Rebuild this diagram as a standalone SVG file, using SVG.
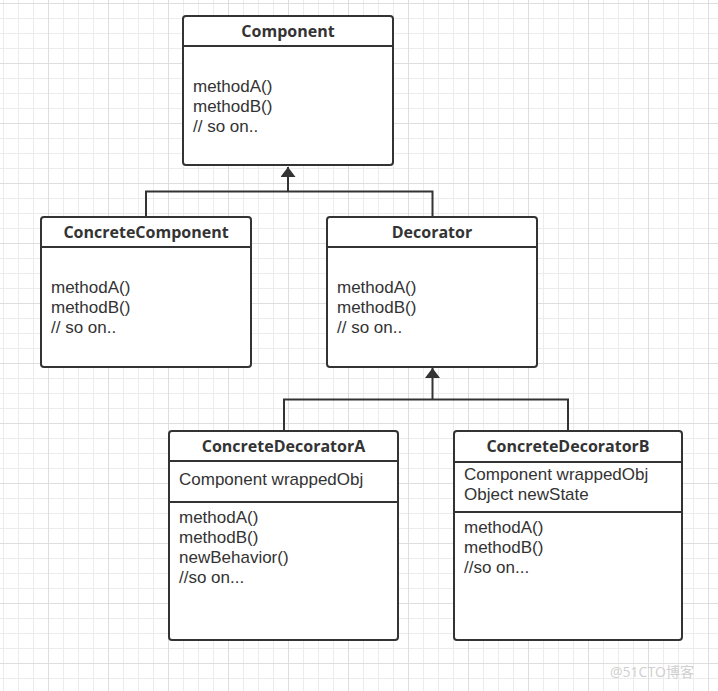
<svg xmlns="http://www.w3.org/2000/svg" width="718" height="691" viewBox="0 0 718 691">
<style>
.box{fill:#fff;stroke:#333;stroke-width:2}
.div{stroke:#333;stroke-width:2}
.title{font-family:"Open Sans","Noto Sans",sans-serif;font-weight:bold;font-size:16px;fill:#333;text-anchor:middle}
.t{font-family:"Liberation Sans",Arial,sans-serif;font-size:17px;fill:#333}
.conn{fill:none;stroke:#333;stroke-width:2}
</style>
<defs>
<pattern id="minor" patternUnits="userSpaceOnUse" x="3" y="3" width="15" height="15">
<path d="M0.5 0V15M0 0.5H15" stroke="#ececec" stroke-width="1" fill="none"/>
</pattern>
<pattern id="major" patternUnits="userSpaceOnUse" x="48" y="3" width="60" height="60">
<path d="M0.5 0V60M0 0.5H60" stroke="#dedede" stroke-width="1" fill="none"/>
</pattern>
<marker id="tri" viewBox="0 0 10 15" refX="10" refY="7.5" markerWidth="10" markerHeight="15" markerUnits="userSpaceOnUse" orient="auto">
<path d="M0 0L10 7.5L0 15Z" fill="#333"/>
</marker>
</defs>
<rect width="718" height="691" fill="#fff"/>
<rect width="718" height="691" fill="url(#minor)"/>
<rect width="718" height="691" fill="url(#major)"/>

<g id="connectors">
<path class="conn" d="M146 216V191.5H432.5V216"/>
<path class="conn" d="M288 191.5V167" marker-end="url(#tri)"/>
<path class="conn" d="M284 431V399.5H568V431"/>
<path class="conn" d="M432.5 399.5V368" marker-end="url(#tri)"/>
</g>

<g id="component">
<rect class="box" x="183" y="16" width="210" height="149" rx="3"/>
<line class="div" x1="183" y1="46" x2="393" y2="46"/>
<text class="title" x="288" y="37">Component</text>
<text class="t" x="193" y="92">methodA()</text>
<text class="t" x="193" y="112">methodB()</text>
<text class="t" x="193" y="132">// so on..</text>
</g>

<g id="concreteComponent">
<rect class="box" x="41" y="217" width="210" height="150" rx="3"/>
<line class="div" x1="41" y1="247" x2="251" y2="247"/>
<text class="title" x="146" y="238">ConcreteComponent</text>
<text class="t" x="51" y="293">methodA()</text>
<text class="t" x="51" y="313">methodB()</text>
<text class="t" x="51" y="333">// so on..</text>
</g>

<g id="decorator">
<rect class="box" x="327" y="217" width="210" height="150" rx="3"/>
<line class="div" x1="327" y1="247" x2="537" y2="247"/>
<text class="title" x="432" y="238">Decorator</text>
<text class="t" x="337" y="293">methodA()</text>
<text class="t" x="337" y="313">methodB()</text>
<text class="t" x="337" y="333">// so on..</text>
</g>

<g id="concreteDecoratorA">
<rect class="box" x="169" y="431" width="229" height="209" rx="3"/>
<line class="div" x1="169" y1="461" x2="398" y2="461"/>
<line class="div" x1="169" y1="502" x2="398" y2="502"/>
<text class="title" x="283.5" y="452">ConcreteDecoratorA</text>
<text class="t" x="179" y="485">Component wrappedObj</text>
<text class="t" x="179" y="523">methodA()</text>
<text class="t" x="179" y="543">methodB()</text>
<text class="t" x="179" y="563">newBehavior()</text>
<text class="t" x="179" y="583">//so on...</text>
</g>

<g id="concreteDecoratorB">
<rect class="box" x="454" y="431" width="228" height="209" rx="3"/>
<line class="div" x1="454" y1="462" x2="682" y2="462"/>
<line class="div" x1="454" y1="512" x2="682" y2="512"/>
<text class="title" x="568" y="452">ConcreteDecoratorB</text>
<text class="t" x="464" y="480">Component wrappedObj</text>
<text class="t" x="464" y="500">Object newState</text>
<text class="t" x="464" y="533">methodA()</text>
<text class="t" x="464" y="553">methodB()</text>
<text class="t" x="464" y="573">//so on...</text>
</g>

<text x="610" y="677" font-family="'Open Sans','Noto Sans CJK SC',sans-serif" font-size="14" fill="#cfcfcf">@51CTO博客</text>
</svg>
